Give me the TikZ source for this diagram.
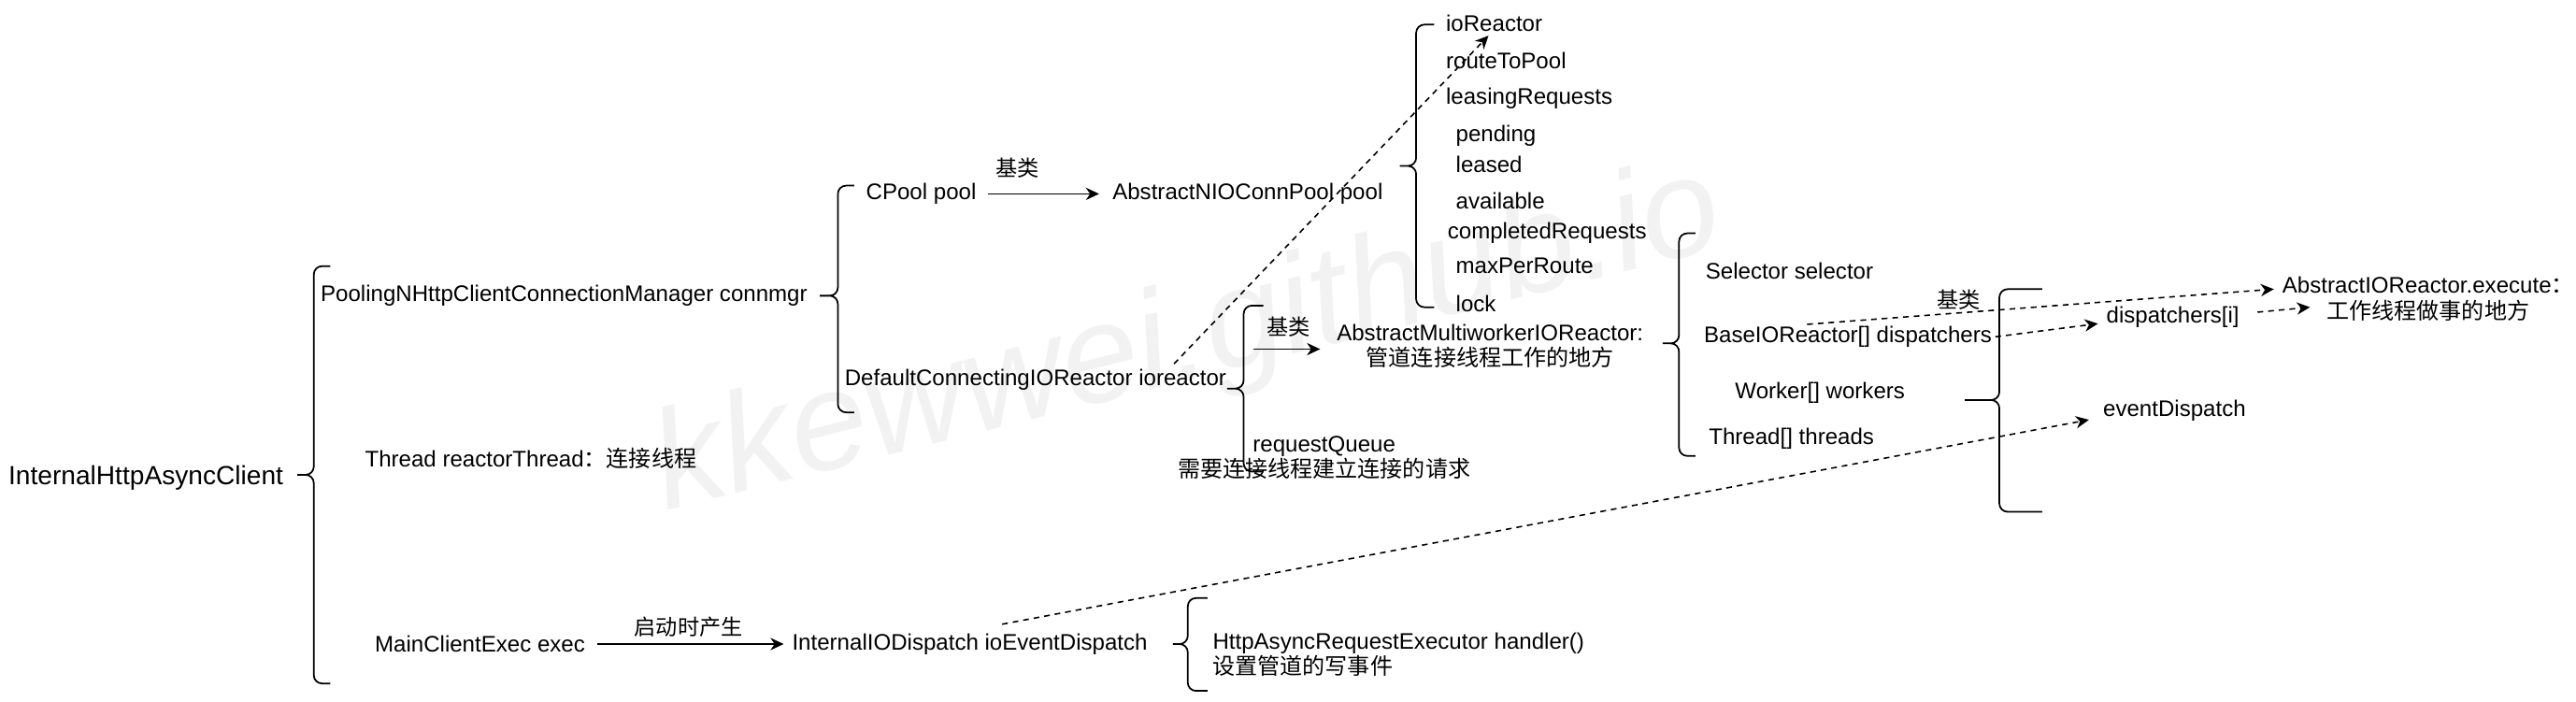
\documentclass[tikz,border=0pt]{standalone}
\usepackage{fontspec}
\setmainfont{Liberation Sans}
\newfontfamily\cjk{Noto Sans CJK SC}
\usetikzlibrary{arrows.meta}
\tikzset{
    plain-text/.style = {inner sep=0pt, anchor=west, font=\fontsize{13.7}{15.5}\selectfont},
    cjk-label/.style = {inner sep=0pt, font=\cjk\fontsize{13.2}{15}\selectfont},
    solid-arrow/.style = {line width=1pt, -{Stealth[length=8pt, width=7.5pt, inset=2.5pt]}},
    dash-arrow/.style = {line width=0.9pt, dash pattern=on 3.5pt off 3pt, -{Stealth[length=8pt, width=7.5pt, inset=2.5pt]}},
    curly-line/.style = {line width=1pt, rounded corners=5pt},
    watermark/.style = {inner sep=0pt, rotate=14, text=black!5, font=\itshape\fontsize{85}{85}\selectfont},
}
\newcommand{\curlybrace}[6]{\draw[curly-line] (#3,#4) -- (#2,#4) -- (#2,#6) -- (#1,#6) (#3,#5) -- (#2,#5) -- (#2,#6) -- (#1,#6);}

\begin{document}
\begin{tikzpicture}[x=1pt, y=-1pt]
\useasboundingbox (0,0) rectangle (1568,427);
\node[watermark, anchor=base west] (mark) at (405,311) {kkewwei.github.io};

\node[plain-text, font=\fontsize{16}{19}\selectfont] (client) at (5,291) {InternalHttpAsyncClient};
\curlybrace{181}{191}{201}{162}{416}{289}

\node[plain-text] (connmgr) at (195,180) {PoolingNHttpClientConnectionManager connmgr};
\node[plain-text] (reactorThread) at (222,279) {Thread reactorThread{\cjk ：连接线程}};
\node[plain-text] (exec) at (228,392) {MainClientExec exec};
\node[plain-text] (ioDispatch) at (482,392) {InternalIODispatch ioEventDispatch};
\draw[solid-arrow, shorten <=7pt, shorten >=5pt] (exec) -- node[cjk-label, above=4pt] {启动时产生} (ioDispatch);

\curlybrace{714}{723}{735}{364}{420.5}{392}
\node[plain-text, align=left] (handler) at (738,398.5) {HttpAsyncRequestExecutor handler()\\{\cjk 设置管道的写事件}};

\curlybrace{499}{510}{520}{113}{251}{180}
\node[plain-text] (cpool) at (527,118) {CPool pool};
\node[plain-text] (connPool) at (677,118) {AbstractNIOConnPool pool};
\draw[solid-arrow, shorten <=7pt, shorten >=8pt] (cpool) -- node[cjk-label, above=9pt, pos=0.3] {基类} (connPool);
\node[plain-text] (ioreactor) at (514,231) {DefaultConnectingIOReactor ioreactor};

\curlybrace{852}{862}{873}{15}{187}{101}
\node[plain-text] (ioReactor) at (880,14) {ioReactor};
\node[plain-text] (routeToPool) at (880,37) {routeToPool};
\node[plain-text] (leasingRequests) at (880,60) {leasingRequests};
\node[plain-text] (pending) at (886,82.5) {pending};
\node[plain-text] (leased) at (886,100) {leased};
\node[plain-text] (available) at (886,122.5) {available};
\node[plain-text] (completedRequests) at (881,142) {completedRequests};
\node[plain-text] (maxPerRoute) at (886,162) {maxPerRoute};
\node[plain-text] (lock) at (886,185) {lock};
\draw[dash-arrow] ([xshift=-32pt, yshift=3pt]ioreactor.north east) -- ([xshift=26pt, yshift=-2.5pt]ioReactor.south west);

\curlybrace{747}{757}{769}{186}{287}{236.5}
\node[plain-text, anchor=center, align=center] (multiworker) at (907,210.5) {AbstractMultiworkerIOReactor:\\{\cjk 管道连接线程工作的地方}};
\coordinate (reactorBase) at (763,212.5);
\draw[solid-arrow, shorten >=10pt] (reactorBase) -- node[cjk-label, above=7pt, pos=0.42] {基类} (multiworker.west |- reactorBase);
\node[plain-text, anchor=center, align=center] (requestQueue) at (806,278.5) {requestQueue\\{\cjk 需要连接线程建立连接的请求}};

\curlybrace{1012}{1022}{1032}{142}{277.5}{209}
\node[plain-text] (selector) at (1038,165) {Selector selector};
\node[plain-text] (dispatchers) at (1037,205) {BaseIOReactor[] dispatchers};
\node[plain-text] (workers) at (1056,239) {Worker[] workers};
\node[plain-text] (threads) at (1040,267) {Thread[] threads};

\curlybrace{1196}{1217}{1243}{176}{311.5}{243.5}
\node[plain-text] (dispatcherI) at (1282,193) {dispatchers[i]};
\node[plain-text] (eventDispatch) at (1280,250) {eventDispatch};
\node[plain-text, anchor=center, align=center] (execute) at (1478,182) {AbstractIOReactor.execute{\cjk ：}\\{\cjk 工作线程做事的地方}};

\draw[dash-arrow] ([xshift=63pt, yshift=1pt]dispatchers.north west) -- node[cjk-label, above=1.5pt, pos=0.325] {基类} ([xshift=-5pt, yshift=6pt]execute.west);
\draw[dash-arrow] ([xshift=2pt]dispatchers.east) -- ([xshift=-5pt, yshift=-4pt]dispatcherI.west);
\draw[dash-arrow] ([xshift=11pt, yshift=3pt]dispatcherI.east) -- ([xshift=17pt, yshift=-5pt]execute.west);
\draw[dash-arrow] ([xshift=128pt, yshift=5.5pt]ioDispatch.north west) -- ([xshift=-8.5pt, yshift=-5.5pt]eventDispatch.west);
\end{tikzpicture}
\end{document}
